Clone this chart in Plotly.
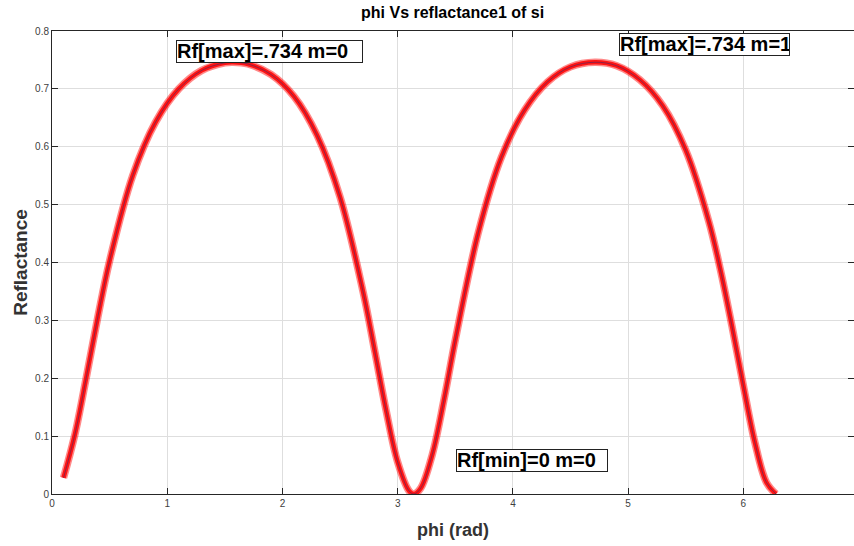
import plotly.graph_objects as go

# values
phi = [0.1, 0.2, 0.3, 0.4, 0.5, 0.7, 0.9, 1.1, 1.3, 1.5, 1.571, 1.7, 1.9, 2.1,
       2.3, 2.5, 2.7, 2.8, 2.9, 3.0, 3.1, 3.142, 3.2, 3.3, 3.4, 3.5, 3.7, 3.9,
       4.1, 4.3, 4.5, 4.712, 4.9, 5.1, 5.3, 5.5, 5.7, 5.8, 5.9, 6.0, 6.1, 6.2,
       6.283]
reflect = [0.028, 0.104, 0.204, 0.308, 0.403, 0.550, 0.643, 0.700, 0.732, 0.745,
           0.746, 0.743, 0.725, 0.687, 0.620, 0.513, 0.349, 0.248, 0.144, 0.055,
           0.005, 0.0, 0.010, 0.068, 0.161, 0.266, 0.452, 0.582, 0.663, 0.712,
           0.738, 0.746, 0.740, 0.716, 0.671, 0.594, 0.471, 0.388, 0.291, 0.187,
           0.089, 0.020, 0.0]

x_ticks = [0, 1, 2, 3, 4, 5, 6]
y_ticks = [0, 0.1, 0.2, 0.3, 0.4, 0.5, 0.6, 0.7, 0.8]
y_tick_text = ['0', '0.1', '0.2', '0.3', '0.4', '0.5', '0.6', '0.7', '0.8']

labels = ['Rf[max]=.734 m=0', 'Rf[max]=.734 m=1', 'Rf[min]=0 m=0']
label_x = [1.076, 4.92, 3.51]
label_y = [0.784, 0.796, 0.078]
label_w = [185, 169, 150]

fig = go.Figure()
fig.add_trace(go.Scatter(x=phi, y=reflect, mode='lines', line_shape='spline',
                         line={'color': 'rgba(255,20,20,0.5)', 'width': 7.5},
                         hoverinfo='skip'))
fig.add_trace(go.Scatter(x=phi, y=reflect, mode='lines', line_shape='spline',
                         line={'color': 'rgba(255,0,0,0.85)', 'width': 4.5},
                         hoverinfo='skip'))
fig.add_trace(go.Scatter(x=phi, y=reflect, mode='lines', line_shape='spline',
                         line={'color': 'rgba(70,40,100,0.6)', 'width': 1}))

for txt, lx, ly, lw in zip(labels, label_x, label_y, label_w):
    fig.add_annotation(x=lx, y=ly, xref='x', yref='y', text=f'<b>{txt}</b>',
                       showarrow=False, xanchor='left', yanchor='top',
                       width=lw, height=21, align='left', valign='bottom',
                       bordercolor='#222222', borderwidth=1, borderpad=0,
                       bgcolor='white',
                       font={'family': 'Liberation Sans', 'size': 20,
                             'color': 'black'})

axis_style = dict(showline=True, linecolor='#262626', linewidth=1, mirror='ticks',
                  ticks='inside', ticklen=6, tickcolor='#262626',
                  showgrid=True, gridcolor='#dedede', gridwidth=1,
                  zeroline=False, automargin=False,
                  tickfont={'family': 'Liberation Sans', 'size': 10,
                            'color': '#404040'})

fig.update_layout(
    width=854, height=546, autosize=False, showlegend=False,
    paper_bgcolor='white', plot_bgcolor='white',
    margin={'l': 52, 'r': 0, 't': 31, 'b': 52, 'autoexpand': False},
    title={'text': '<b>phi Vs reflactance1 of si</b>', 'x': 0.53, 'y': 0.978,
           'xanchor': 'center', 'yanchor': 'middle',
           'font': {'family': 'Liberation Sans', 'size': 16, 'color': 'black'}},
    xaxis=dict(axis_style, range=[0, 6.96], tickvals=x_ticks,
               title={'text': '<b>phi (rad)</b>', 'standoff': 15,
                      'font': {'family': 'Liberation Sans', 'size': 18,
                               'color': '#333333'}}),
    yaxis=dict(axis_style, range=[0, 0.8], tickvals=y_ticks,
               ticktext=y_tick_text,
               title={'text': '<b>Reflactance</b>', 'standoff': 2,
                      'font': {'family': 'Liberation Sans', 'size': 19,
                               'color': '#333333'}}),
)

# drop the default 8px page margin so the figure sits at the window corner
fig.write_html("out.html", config={'displayModeBar': False},
               post_script="document.body.style.margin = '0';")
